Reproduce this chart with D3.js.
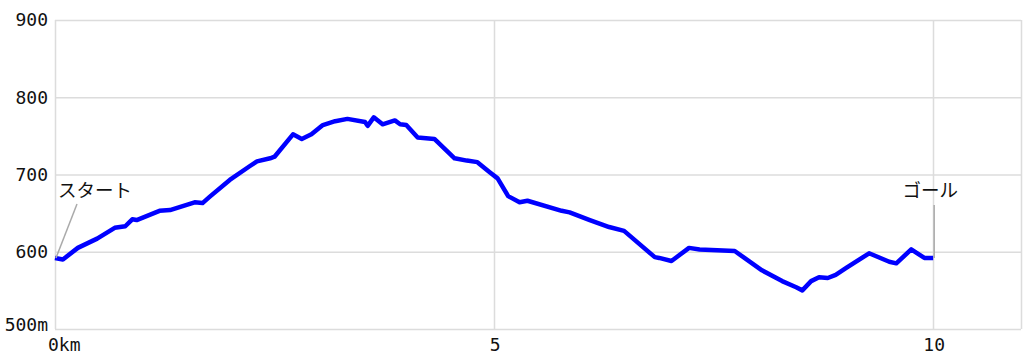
<!DOCTYPE html>
<html>
<head>
<meta charset="utf-8">
<script src="https://cdn.jsdelivr.net/npm/d3@7"></script>
<style>
  body { margin: 0; background: #fff; }
  svg text { fill: #111; }
</style>
</head>
<body>
<div id="chart"></div>
<script>
const width = 1024;
const height = 362;

// Data ///////////////////////////////////////////
const distKm = [0.00, 0.09, 0.26, 0.48, 0.68, 0.80, 0.88, 0.93, 1.19, 1.31,
  1.59, 1.68, 1.76, 1.99, 2.22, 2.30, 2.45, 2.50, 2.71, 2.81,
  2.92, 3.05, 3.19, 3.33, 3.53, 3.56, 3.63, 3.73, 3.87, 3.93,
  4.00, 4.13, 4.32, 4.55, 4.69, 4.81, 4.95, 5.04, 5.16, 5.29,
  5.38, 5.77, 5.86, 6.09, 6.31, 6.48, 6.83, 6.88, 7.02, 7.22,
  7.34, 7.74, 8.05, 8.28, 8.44, 8.51, 8.61, 8.70, 8.80, 8.89,
  9.01, 9.27, 9.50, 9.58, 9.75, 9.90, 10.00];
const elevM = [592, 590, 605, 617, 631, 633, 642, 641, 653, 654,
  664, 663, 671, 693, 711, 717, 721, 723, 752, 746,
  752, 764, 769, 772, 768, 763, 774, 765, 770, 765,
  764, 748, 746, 721, 718, 716, 703, 695, 672, 664,
  666, 653, 651, 641, 632, 627, 593, 592, 588, 605,
  603, 601, 576, 562, 554, 550, 562, 567, 566, 570,
  579, 598, 587, 585, 603, 592, 592];

const yTicks = [500, 600, 700, 800, 900];
const yTickLabels = ["500m", "600", "700", "800", "900"];
const xTicks = [0, 5, 10];
const xTickLabels = ["0km", "5", "10"];

const marks = [
  { name: "スタート", km: 0.00, elev: 592 },
  { name: "ゴール", km: 10.00, elev: 592 }
];

// Scales ///////////////////////////////////////////
const x = d3.scaleLinear().domain([0, 11]).range([55, 1021]);
const y = d3.scaleLinear().domain([500, 900]).range([329, 20]);

const svg = d3.select("#chart").append("svg")
  .attr("width", width)
  .attr("height", height);

const gridColor = "#dcdcdc";
const numFont = "'DejaVu Sans Mono', monospace";

// grid
svg.append("g").selectAll("line.h")
  .data(yTicks)
  .enter().append("line")
  .attr("x1", x(0)).attr("x2", x(11))
  .attr("y1", d => y(d) + 0.5).attr("y2", d => y(d) + 0.5)
  .attr("stroke", gridColor).attr("stroke-width", 1.5);

svg.append("g").selectAll("line.v")
  .data(xTicks.concat([11]))
  .enter().append("line")
  .attr("x1", d => Math.round(x(d)) + 0.5).attr("x2", d => Math.round(x(d)) + 0.5)
  .attr("y1", y(900)).attr("y2", y(500))
  .attr("stroke", gridColor).attr("stroke-width", 1.5);

// y labels
svg.append("g").selectAll("text")
  .data(yTicks)
  .enter().append("text")
  .attr("x", 48)
  .attr("y", (d, i) => y(d) + (i === 0 ? -4 : 0))
  .attr("dy", "0.35em")
  .attr("text-anchor", "end")
  .style("font-family", numFont)
  .style("font-size", "18px")
  .text((d, i) => yTickLabels[i]);

// x labels
svg.append("g").selectAll("text")
  .data(xTicks)
  .enter().append("text")
  .attr("x", (d, i) => i === 0 ? x(d) - 7 : x(d) + 1)
  .attr("y", 345)
  .attr("dy", "0.35em")
  .attr("text-anchor", (d, i) => i === 0 ? "start" : "middle")
  .style("font-family", numFont)
  .style("font-size", "18px")
  .text((d, i) => xTickLabels[i]);

// profile line
const profile = distKm.map((d, i) => [d, elevM[i]]);
const line = d3.line().x(d => x(d[0])).y(d => y(d[1]));
svg.append("path")
  .datum(profile)
  .attr("d", line)
  .attr("fill", "none")
  .attr("stroke", "#0000ff")
  .attr("stroke-width", 4.5)
  .attr("stroke-linejoin", "round");

// start / goal marks
const startM = marks[0];
svg.append("line")
  .attr("x1", x(startM.km) + 1).attr("y1", y(startM.elev))
  .attr("x2", x(startM.km) + 22).attr("y2", y(startM.elev) - 54)
  .attr("stroke", "#aaa").attr("stroke-width", 1.5);
svg.append("text")
  .attr("x", x(startM.km) + 40).attr("y", 197)
  .attr("text-anchor", "middle")
  .style("font-family", "'Noto Sans CJK JP', sans-serif")
  .style("font-size", "18.5px")
  .text(startM.name);

const goalM = marks[1];
svg.append("line")
  .attr("x1", x(goalM.km) + 1).attr("y1", y(goalM.elev))
  .attr("x2", x(goalM.km) + 1).attr("y2", y(goalM.elev) - 53)
  .attr("stroke", "#aaa").attr("stroke-width", 1.5);
svg.append("text")
  .attr("x", x(goalM.km) - 3).attr("y", 197)
  .attr("text-anchor", "middle")
  .style("font-family", "'Noto Sans CJK JP', sans-serif")
  .style("font-size", "18.5px")
  .text(goalM.name);
</script>
</body>
</html>
